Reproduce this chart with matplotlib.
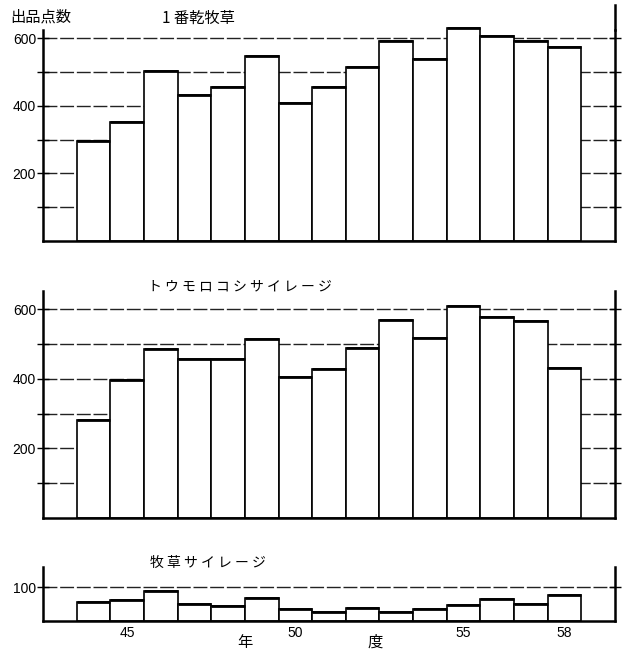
import matplotlib
matplotlib.use("Agg")
import matplotlib.pyplot as plt
import numpy as np

plt.rcParams['font.family'] = ['Noto Sans CJK JP', 'DejaVu Sans']

# 年度 (昭和)
years = [44, 45, 46, 47, 48, 49, 50, 51, 52, 53, 54, 55, 56, 57, 58]

# 出品点数
hay_first = [296, 353, 504, 431, 457, 548, 410, 457, 515, 593, 538, 631, 608, 591, 575]
corn_silage = [281, 397, 486, 458, 458, 513, 404, 428, 488, 568, 518, 610, 578, 565, 432]
grass_silage = [57, 63, 90, 51, 45, 68, 35, 26, 39, 26, 35, 47, 66, 51, 78]

titles = ["1 番乾牧草", "ト ウ モ ロ コ シ サ イ レ ー ジ", "牧 草 サ イ レ ー ジ"]
xtick_years = [45, 50, 55, 58]

W, H = 629, 651
fig = plt.figure(figsize=(W / 100, H / 100), dpi=100)


def px_axes(x0, y_top, x1, y_bot):
    return fig.add_axes([x0 / W, 1 - y_bot / H, (x1 - x0) / W, (y_bot - y_top) / H])


def style_panel(ax, ymax, grid_vals, label_vals, right_ext=0.0):
    ax.set_xlim(42.5, 59.5)
    ax.set_ylim(0, ymax)
    ax.spines["top"].set_visible(False)
    for s in ("left", "right", "bottom"):
        ax.spines[s].set_linewidth(1.8)
        ax.spines[s].set_color("black")
    for g in grid_vals:
        ax.axhline(g, color="#222222", lw=1.0, ls=(0, (10, 2)), zorder=0)
    ax.set_yticks(grid_vals)
    ax.set_yticklabels([str(v) if v in label_vals else "" for v in grid_vals],
                       family=["Liberation Sans"], fontsize=10)
    ax.tick_params(axis="y", which="both", direction="inout", length=8, width=1.0,
                   right=True, left=True, pad=1)
    ax.set_xticks([])
    if right_ext:
        ax.plot([1, 1], [1, 1 + right_ext], transform=ax.transAxes,
                color="black", lw=1.8, clip_on=False)


def draw_bars(ax, vals):
    ax.bar(years, vals, width=1.0, facecolor="white", edgecolor="black",
           linewidth=1.2, zorder=2, clip_on=False)
    ax.hlines(vals, np.array(years) - 0.5, np.array(years) + 0.5,
              color="black", lw=2.0, zorder=3, clip_on=False)


# top panel
ax1 = px_axes(43, 30, 615, 241)
style_panel(ax1, 625, [100, 200, 300, 400, 500, 600], [200, 400, 600], right_ext=0.12)
draw_bars(ax1, hay_first)
fig.text(10 / W, 1 - 17 / H, "出品点数", fontsize=11, ha="left", va="center")
fig.text(198 / W, 1 - 18 / H, titles[0], fontsize=11, ha="center", va="center")

# middle panel
ax2 = px_axes(43, 291, 615, 518)
style_panel(ax2, 652, [100, 200, 300, 400, 500, 600], [200, 400, 600])
draw_bars(ax2, corn_silage)
fig.text(240 / W, 1 - 286 / H, titles[1], fontsize=10, ha="center", va="center")

# bottom panel
ax3 = px_axes(43, 567, 615, 621)
style_panel(ax3, 160, [100], [100])
draw_bars(ax3, grass_silage)
fig.text(208 / W, 1 - 563 / H, titles[2], fontsize=10, ha="center", va="center")
for y in xtick_years:
    ax3.text(y, -0.22, str(y), transform=ax3.get_xaxis_transform(),
             ha="center", va="center", fontsize=10, family=["Liberation Sans"])
fig.text(245 / W, 1 - 642 / H, "年", fontsize=11, ha="center", va="center")
fig.text(375 / W, 1 - 642 / H, "度", fontsize=11, ha="center", va="center")

fig.savefig("out.png", dpi=100, facecolor="white")
